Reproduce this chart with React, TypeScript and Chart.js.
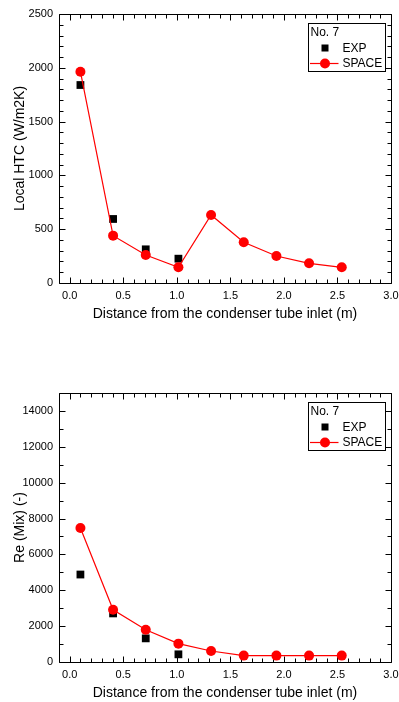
import React, { useEffect, useRef } from 'react';
import { Chart, registerables } from 'chart.js';

Chart.register(...registerables);

const FONT = '"Liberation Sans", Arial, sans-serif';

const legendTitle = 'No. 7';
const expLabel = 'EXP';
const spaceLabel = 'SPACE';
const xTitle = 'Distance from the condenser tube inlet (m)';
const htcTitle = 'Local HTC (W/m2K)';
const reTitle = 'Re (Mix) (-)';

const xExp = [0.1, 0.405, 0.71, 1.015];
const xSpace = [0.1, 0.405, 0.71, 1.015, 1.32, 1.625, 1.93, 2.235, 2.54];

const htcExp = [1840, 595, 313, 226];
const htcSpace = [1964, 440, 260, 146, 632, 378, 251, 183, 146];

const reExp = [4878, 2709, 1318, 428];
const reSpace = [7475, 2914, 1802, 1023, 612, 356, 356, 356, 356];

const xTickValues = [0, 0.5, 1.0, 1.5, 2.0, 2.5, 3.0];
const htcTickValues = [0, 500, 1000, 1500, 2000, 2500];
const reTickValues = [0, 2000, 4000, 6000, 8000, 10000, 12000, 14000];

const pts = (xs: number[], ys: number[]) => xs.map((x, i) => ({ x, y: ys[i] }));

const isMajor = (v: number, majors: number[]) => majors.some((m) => Math.abs(m - v) < 1e-6 * Math.max(1, Math.abs(m)));

const frameTicksPlugin = {
  id: 'frameTicks',
  beforeDatasetsDraw(chart: any, _args: any, opts: any) {
    const { ctx, chartArea } = chart;
    const { left, right, top, bottom } = chartArea;
    const xs = chart.scales.x;
    const ys = chart.scales.y;
    ctx.save();
    ctx.strokeStyle = '#000';
    ctx.lineWidth = 1;
    const L = Math.round(left) + 0.5;
    const R = Math.round(right) + 0.5;
    const T = Math.round(top) + 0.5;
    const B = Math.round(bottom) + 0.5;
    ctx.beginPath();
    ctx.rect(L, T, R - L, B - T);
    ctx.stroke();
    const majorLen = 6;
    const minorLen = 4;
    ctx.beginPath();
    const xStep = opts.xMinor;
    for (let k = Math.ceil(xs.min / xStep - 1e-9); k * xStep <= xs.max + 1e-9; k++) {
      const v = k * xStep;
      const p = Math.round(xs.getPixelForValue(v)) + 0.5;
      const len = isMajor(v, opts.xMajors) ? majorLen : minorLen;
      ctx.moveTo(p, B);
      ctx.lineTo(p, B - len);
      ctx.moveTo(p, T);
      ctx.lineTo(p, T + len);
    }
    const yStep = opts.yMinor;
    for (let k = Math.ceil(ys.min / yStep - 1e-9); k * yStep <= ys.max + 1e-9; k++) {
      const v = k * yStep;
      const p = Math.round(ys.getPixelForValue(v)) + 0.5;
      const len = isMajor(v, opts.yMajors) ? majorLen : minorLen;
      ctx.moveTo(L, p);
      ctx.lineTo(L + len, p);
      ctx.moveTo(R, p);
      ctx.lineTo(R - len, p);
    }
    ctx.stroke();
    ctx.restore();
  },
};

const boxLegendPlugin = {
  id: 'boxLegend',
  afterDraw(chart: any, _args: any, opts: any) {
    const { ctx, chartArea } = chart;
    const ds = chart.data.datasets;
    const exp = ds.find((d: any) => d.label === expLabel);
    const sp = ds.find((d: any) => d.label === spaceLabel);
    const bx = Math.round(chartArea.right - 83.5) + 0.5;
    const by = Math.round(chartArea.top + 9) + 0.5;
    const bw = 77;
    const bh = 48;
    ctx.save();
    ctx.fillStyle = '#fff';
    ctx.fillRect(bx, by, bw, bh);
    ctx.strokeStyle = '#000';
    ctx.lineWidth = 1;
    ctx.strokeRect(bx, by, bw, bh);
    ctx.font = `12px ${FONT}`;
    ctx.fillStyle = '#000';
    ctx.textBaseline = 'middle';
    ctx.textAlign = 'left';
    ctx.fillText(opts.title, bx + 2, by + 9);
    const sx = bx + 16.5;
    const textX = bx + 34;
    const ey = by + 24.5;
    ctx.fillStyle = exp.backgroundColor;
    ctx.fillRect(sx - 3.5, ey - 3.5, 7, 7);
    ctx.fillStyle = '#000';
    ctx.fillText(exp.label, textX, ey + 0.5);
    const syy = by + 40;
    ctx.strokeStyle = sp.borderColor;
    ctx.lineWidth = 1.2;
    ctx.beginPath();
    ctx.moveTo(bx + 1.5, syy);
    ctx.lineTo(bx + 30, syy);
    ctx.stroke();
    ctx.fillStyle = sp.backgroundColor;
    ctx.beginPath();
    ctx.arc(sx, syy, 5, 0, Math.PI * 2);
    ctx.fill();
    ctx.fillStyle = '#000';
    ctx.fillText(sp.label, textX, syy + 0.5);
    ctx.restore();
  },
};

type PanelProps = {
  yExp: number[];
  ySpace: number[];
  yMax: number;
  yTicks: number[];
  yMinor: number;
  yTitle: string;
  top: number;
};

function Panel({ yExp, ySpace, yMax, yTicks, yMinor, yTitle, top }: PanelProps) {
  const ref = useRef<HTMLCanvasElement | null>(null);
  useEffect(() => {
    if (!ref.current) return;
    const chart = new Chart(ref.current, {
      type: 'scatter',
      data: {
        datasets: [
          {
            label: expLabel,
            data: pts(xExp, yExp),
            showLine: false,
            pointStyle: 'rect',
            pointRadius: 5.5,
            backgroundColor: '#000000',
            borderColor: '#000000',
            borderWidth: 0,
            order: 1,
          },
          {
            label: spaceLabel,
            data: pts(xSpace, ySpace),
            showLine: true,
            pointStyle: 'circle',
            pointRadius: 5,
            backgroundColor: '#ff0000',
            borderColor: '#ff0000',
            borderWidth: 1.2,
            pointBorderWidth: 0,
            order: 0,
          },
        ],
      },
      options: {
        animation: false,
        responsive: false,
        events: [],
        layout: { padding: { left: 0, right: 8, top: 14, bottom: 0 } },
        plugins: {
          legend: { display: false },
          tooltip: { enabled: false },
          frameTicks: { xMinor: 0.1, xMajors: xTickValues, yMinor, yMajors: yTicks },
          boxLegend: { title: legendTitle },
        } as any,
        scales: {
          x: {
            type: 'linear',
            min: -0.1,
            max: 3.0,
            grid: { display: false, drawTicks: false, tickLength: 0 },
            border: { display: false },
            afterBuildTicks: (s: any) => {
              s.ticks = xTickValues.map((value) => ({ value }));
            },
            afterFit: (s: any) => {
              s.height = 40;
              s.paddingLeft = 0;
              s.paddingRight = 0;
              s.paddingTop = 0;
              s.paddingBottom = 0;
            },
            ticks: {
              padding: 6,
              autoSkip: false,
              maxRotation: 0,
              color: '#000',
              font: { size: 11, family: FONT },
              callback: (v: any) => Number(v).toFixed(1),
            },
            title: {
              display: true,
              text: xTitle,
              color: '#000',
              font: { size: 14, family: FONT },
              padding: { top: 0, bottom: 0.6 },
            },
          },
          y: {
            type: 'linear',
            min: 0,
            max: yMax,
            grid: { display: false, drawTicks: false, tickLength: 0 },
            border: { display: false },
            afterBuildTicks: (s: any) => {
              s.ticks = yTicks.map((value) => ({ value }));
            },
            afterFit: (s: any) => {
              s.width = 59;
              s.paddingTop = 0;
              s.paddingBottom = 0;
              s.paddingLeft = 0;
              s.paddingRight = 0;
            },
            ticks: {
              padding: 6,
              autoSkip: false,
              color: '#000',
              font: { size: 11, family: FONT },
              callback: (v: any) => String(v),
            },
            title: {
              display: true,
              text: yTitle,
              color: '#000',
              font: { size: 14, family: FONT },
              padding: { top: 11.6, bottom: 0 },
            },
          },
        },
      },
      plugins: [frameTicksPlugin, boxLegendPlugin],
    } as any);
    return () => chart.destroy();
  }, []);
  return (
    <canvas
      ref={ref}
      width={399}
      height={323}
      style={{ position: 'absolute', left: 0, top, width: 399, height: 323 }}
    />
  );
}

export default function App() {
  return (
    <div style={{ position: 'absolute', left: 0, top: 0, width: 399, height: 702, background: '#fff' }}>
      <Panel yExp={htcExp} ySpace={htcSpace} yMax={2500} yTicks={htcTickValues} yMinor={100} yTitle={htcTitle} top={0} />
      <Panel yExp={reExp} ySpace={reSpace} yMax={15000} yTicks={reTickValues} yMinor={1000} yTitle={reTitle} top={379} />
    </div>
  );
}
